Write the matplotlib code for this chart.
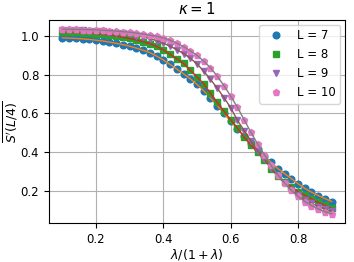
import matplotlib
matplotlib.use("Agg")
import matplotlib.pyplot as plt
import numpy as np

# lambda/(1+lambda) grid, 0.10 .. 0.90 in steps of 0.02
x = [0.10, 0.12, 0.14, 0.16, 0.18, 0.20, 0.22, 0.24, 0.26, 0.28,
     0.30, 0.32, 0.34, 0.36, 0.38, 0.40, 0.42, 0.44, 0.46, 0.48,
     0.50, 0.52, 0.54, 0.56, 0.58, 0.60, 0.62, 0.64, 0.66, 0.68,
     0.70, 0.72, 0.74, 0.76, 0.78, 0.80, 0.82, 0.84, 0.86, 0.88, 0.90]

s_L7 = [0.990, 0.989, 0.987, 0.985, 0.982, 0.978, 0.974, 0.968, 0.962, 0.955,
        0.947, 0.937, 0.926, 0.914, 0.896, 0.876, 0.853, 0.829, 0.805, 0.779,
        0.750, 0.717, 0.680, 0.640, 0.600, 0.560, 0.521, 0.484, 0.450, 0.418,
        0.380, 0.348, 0.316, 0.290, 0.264, 0.238, 0.214, 0.194, 0.177, 0.161, 0.146]

s_L8 = [1.020, 1.019, 1.018, 1.017, 1.015, 1.012, 1.009, 1.005, 1.000, 0.994,
        0.987, 0.979, 0.970, 0.960, 0.946, 0.928, 0.905, 0.882, 0.858, 0.823,
        0.789, 0.752, 0.705, 0.657, 0.612, 0.568, 0.525, 0.478, 0.436, 0.400,
        0.362, 0.316, 0.280, 0.248, 0.222, 0.197, 0.178, 0.160, 0.141, 0.127, 0.110]

s_L9 = [1.030, 1.030, 1.029, 1.028, 1.027, 1.025, 1.023, 1.020, 1.017, 1.013,
        1.008, 1.002, 0.995, 0.986, 0.975, 0.962, 0.947, 0.929, 0.909, 0.885,
        0.856, 0.818, 0.776, 0.731, 0.682, 0.630, 0.565, 0.512, 0.458, 0.408,
        0.366, 0.318, 0.276, 0.240, 0.207, 0.179, 0.155, 0.136, 0.120, 0.107, 0.096]

s_L10 = [1.035, 1.034, 1.034, 1.033, 1.032, 1.031, 1.029, 1.027, 1.025, 1.022,
         1.019, 1.015, 1.010, 1.004, 0.998, 0.990, 0.978, 0.963, 0.945, 0.924,
         0.900, 0.870, 0.836, 0.793, 0.744, 0.690, 0.632, 0.568, 0.503, 0.443,
         0.388, 0.332, 0.284, 0.242, 0.204, 0.172, 0.146, 0.125, 0.108, 0.094, 0.083]

sizes = [7, 8, 9, 10]
series = [s_L7, s_L8, s_L9, s_L10]
markers = ['o', 's', 'v', 'p']

plt.rcParams['font.size'] = 9
plt.rcParams['xtick.labelsize'] = 8.4
plt.rcParams['ytick.labelsize'] = 8.4

fig = plt.figure(figsize=(3.54, 2.62), dpi=100)
ax = fig.add_axes([0.138, 0.149, 0.837, 0.775])

for i, (L, s) in enumerate(zip(sizes, series)):
    ax.plot(x, s, linestyle='none', marker=markers[i], markersize=4.8,
            color=f'C{2 * i}', label=f'L = {L}')
    ax.plot(x, s, '-', color=f'C{2 * i + 1}', linewidth=1)

ax.set_xticks([0.2, 0.4, 0.6, 0.8])
ax.set_yticks([0.2, 0.4, 0.6, 0.8, 1.0])
ax.set_xlabel(r'$\lambda/(1+\lambda)$', labelpad=1)
ax.set_ylabel(r"$\overline{S'(L/4)}$")
ax.yaxis.set_label_coords(-0.1, 0.5)
ax.set_title(r'$\kappa = 1$', pad=4)
ax.grid(True)
ax.legend(loc='upper right', fontsize=8.5, handletextpad=0.8,
          borderaxespad=0.4)

fig.savefig('out.png', dpi=100)
